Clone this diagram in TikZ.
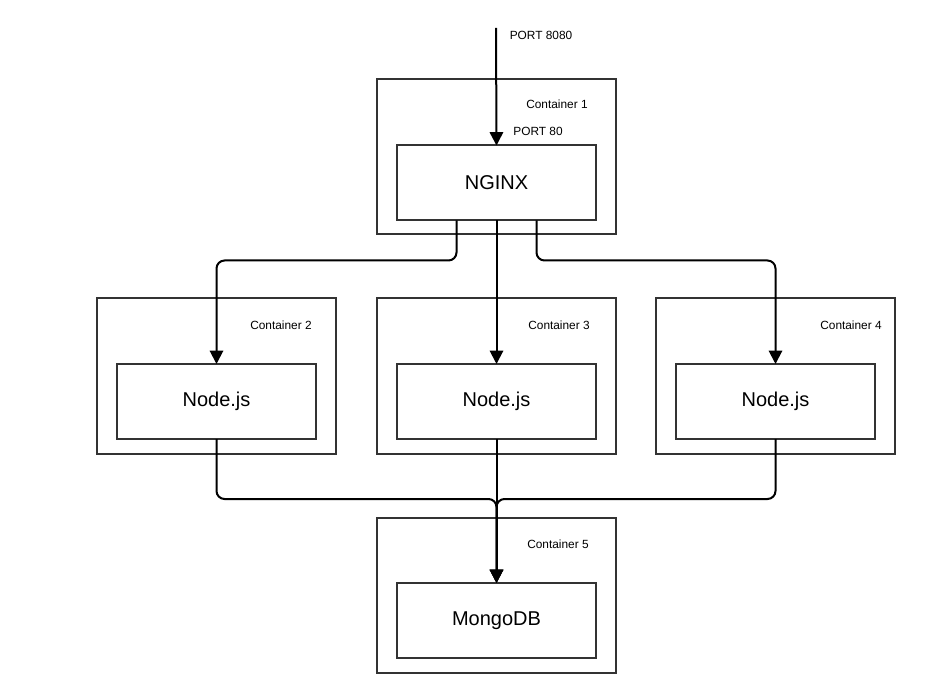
\documentclass[tikz,border=0pt]{standalone}
\usepackage{fontspec}
\setmainfont{Liberation Sans}
\usetikzlibrary{arrows.meta}

\begin{document}
\begin{tikzpicture}[x=0.75pt,y=0.75pt,yscale=-1,xscale=1,
  container/.style={draw={rgb,255:red,51;green,51;blue,51},line width=1.5,inner sep=0,outer sep=0,minimum width=179.25pt,minimum height=116.25pt},
  service/.style={draw={rgb,255:red,51;green,51;blue,51},line width=1.5,inner sep=0,outer sep=0,minimum width=149.25pt,minimum height=56.25pt,font=\fontsize{15}{18}\selectfont},
  tag/.style={inner sep=0,font=\fontsize{8.9}{10}\selectfont},
  link/.style={line width=1.5,rounded corners=6pt,-{Triangle[length=10pt,width=10pt]}}]
\useasboundingbox (0,0) rectangle (941,691);

%Containers
\node [container] (c1) at (496.5,157) {};
\node [container] (c2) at (216.5,376) {};
\node [container] (c3) at (496.5,376) {};
\node [container] (c4) at (775.5,376) {};
\node [container] (c5) at (496.5,595.5) {};

%Services
\node [service] (nginx) at (496.5,183) {NGINX};
\node [service] (node2) at (216.5,401.5) {Node.js};
\node [service] (node3) at (496.5,401.5) {Node.js};
\node [service] (node4) at (775.5,401.5) {Node.js};
\node [service] (mongo) at (496.5,620.5) {MongoDB};

%Text
\node [tag] (l1) at (557,104) {Container 1};
\node [tag] (l2) at (281,325) {Container 2};
\node [tag] (l3) at (559,325) {Container 3};
\node [tag] (l4) at (851,325) {Container 4};
\node [tag] (l5) at (558,544) {Container 5};
\node [tag] (p8080) at (541,35) {PORT 8080};
\node [tag] (p80) at (538,131) {PORT 80};

%Incoming
\coordinate (in) at (496,28);
\draw [link] (in) -- (nginx.north);

%NGINX to Node.js
\draw [link] ([xshift=-30pt]nginx.south) -- ++(0,40) -| (node2.north);
\draw [link] (nginx.south) -- (node3.north);
\draw [link] ([xshift=30pt]nginx.south) -- ++(0,40) -| (node4.north);

%Node.js to MongoDB
\draw [link] (node2.south) -- ++(0,60) -| (mongo.north);
\draw [link] (node3.south) -- (mongo.north);
\draw [link] (node4.south) -- ++(0,60) -| (mongo.north);

\end{tikzpicture}
\end{document}
